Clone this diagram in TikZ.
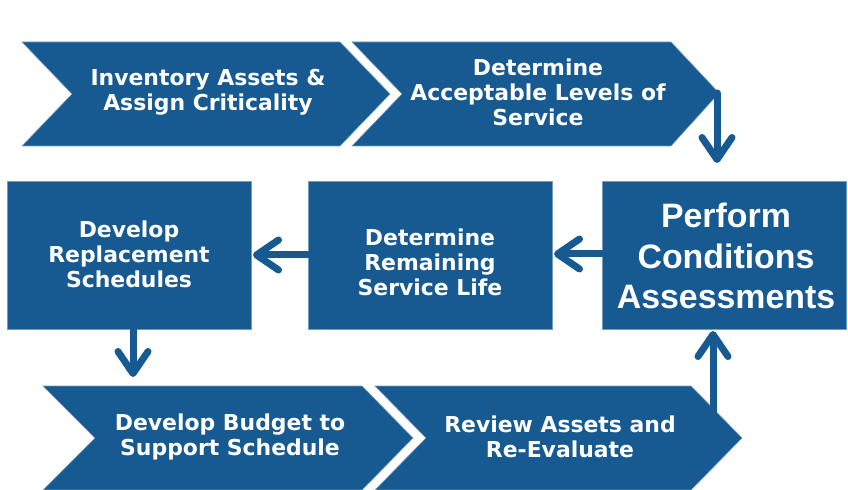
\documentclass[tikz,border=0pt]{standalone}
\usepackage{fontspec}
\setmainfont{DejaVu Sans}
\newfontfamily\bigfont{Liberation Sans}
\usetikzlibrary{arrows.meta}
\definecolor{stepblue}{RGB}{22,90,145}
\tikzset{
  shapefill/.style={fill=stepblue, draw=stepblue!60!white, line width=0.6bp},
  lbl/.style={text=white, align=center, font=\bfseries\fontsize{22}{25}\selectfont, inner sep=0pt},
  biglbl/.style={text=white, align=center, font=\bigfont\bfseries\fontsize{34}{41}\selectfont, inner sep=0pt},
  flowarrow/.style={draw=stepblue, line width=7bp, line cap=round,
    -{Straight Barb[length=22bp, width=30bp, round]}},
}
\begin{document}
\begin{tikzpicture}[x=1bp, y=-1bp]
\useasboundingbox (0,0) rectangle (848,490);
% top chevrons
\fill[shapefill] (22,42) -- (340,42) -- (390,94) -- (340,146) -- (22,146) -- (72,94) -- cycle;
\fill[shapefill] (352,42) -- (671,42) -- (719,93) -- (671,146) -- (352,146) -- (402,94) -- cycle;
% bottom chevrons
\fill[shapefill] (43,386) -- (362,386) -- (413,438) -- (362,490) -- (43,490) -- (95,438) -- cycle;
\fill[shapefill] (375,386) -- (691,386) -- (742,438) -- (691,490) -- (375,490) -- (426,438) -- cycle;
% boxes
\node[shapefill, minimum width=244bp, minimum height=148bp, inner sep=0pt] (A) at (129,255) {};
\node[shapefill, minimum width=244bp, minimum height=148bp, inner sep=0pt] (B) at (430,255) {};
\node[shapefill, minimum width=244bp, minimum height=148bp, inner sep=0pt] (C) at (724,255) {};
% labels
\node[lbl] (t1) at (208,92) {Inventory Assets \&\\Assign Criticality};
\node[lbl] (t2) at (538,92) {Determine\\Acceptable Levels of\\Service};
\node[lbl] (tA) at (129,254) {Develop\\Replacement\\Schedules};
\node[lbl] (tB) at (430,262) {Determine\\Remaining\\Service Life};
\node[biglbl] (tC) at (726,256) {Perform\\Conditions\\Assessments};
\node[lbl] (t3) at (230,437) {Develop Budget to\\Support Schedule};
\node[lbl] (t4) at (560,437) {Review Assets and\\Re-Evaluate};
% connector endpoints
\coordinate (c2tip) at (717,93);
\coordinate (c2end) at (717,163);
\coordinate (aout) at (133,329);
\coordinate (c3in) at (133,377);
\coordinate (c4out) at (713,412);
\coordinate (cin) at (713,331);
% arrows
\draw[flowarrow] (c2tip) -- (c2end);
\draw[flowarrow] (C.west |- 0,254) -- (554,254);
\draw[flowarrow] (B.west |- 0,255) -- (253,255);
\draw[flowarrow] (aout) -- (c3in);
\draw[flowarrow] (c4out) -- (cin);
\end{tikzpicture}
\end{document}
